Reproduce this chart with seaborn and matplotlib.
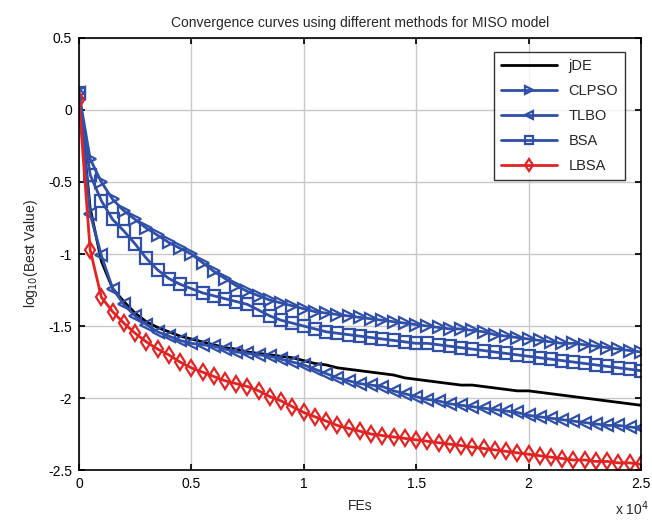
import numpy as np
import pandas as pd
import matplotlib
matplotlib.use("Agg")
import matplotlib.pyplot as plt
import seaborn as sns

fes = [500 * i for i in range(51)]

jde = [0.12, -0.68, -1.05, -1.24, -1.33, -1.41, -1.47, -1.51, -1.54, -1.57,
       -1.59, -1.61, -1.63, -1.65, -1.66, -1.68, -1.69, -1.70, -1.71, -1.72,
       -1.74, -1.76, -1.77, -1.79, -1.80, -1.81, -1.82, -1.83, -1.84, -1.86,
       -1.87, -1.88, -1.89, -1.90, -1.91, -1.91, -1.92, -1.93, -1.94, -1.95,
       -1.95, -1.96, -1.97, -1.98, -1.99, -2.00, -2.01, -2.02, -2.03, -2.04,
       -2.05]

clpso = [0.12, -0.34, -0.50, -0.62, -0.70, -0.76, -0.82, -0.87, -0.92, -0.96,
         -1.00, -1.06, -1.12, -1.17, -1.22, -1.26, -1.29, -1.32, -1.34, -1.36,
         -1.38, -1.40, -1.41, -1.42, -1.43, -1.44, -1.45, -1.46, -1.47, -1.48,
         -1.49, -1.50, -1.51, -1.52, -1.52, -1.53, -1.54, -1.56, -1.57, -1.58,
         -1.59, -1.60, -1.61, -1.62, -1.62, -1.63, -1.64, -1.65, -1.66, -1.67,
         -1.68]

tlbo = [0.12, -0.72, -1.01, -1.24, -1.35, -1.43, -1.49, -1.54, -1.57, -1.60,
        -1.62, -1.63, -1.64, -1.66, -1.68, -1.69, -1.70, -1.71, -1.73, -1.75,
        -1.77, -1.80, -1.83, -1.86, -1.88, -1.90, -1.91, -1.92, -1.95, -1.97,
        -1.99, -2.01, -2.02, -2.04, -2.05, -2.06, -2.07, -2.08, -2.09, -2.10,
        -2.12, -2.13, -2.14, -2.15, -2.16, -2.17, -2.18, -2.19, -2.19, -2.20,
        -2.21]

bsa = [0.12, -0.45, -0.63, -0.76, -0.84, -0.93, -1.03, -1.11, -1.17, -1.21,
       -1.24, -1.27, -1.29, -1.31, -1.33, -1.35, -1.39, -1.43, -1.46, -1.48,
       -1.50, -1.52, -1.54, -1.55, -1.56, -1.57, -1.58, -1.59, -1.60, -1.61,
       -1.62, -1.62, -1.63, -1.64, -1.65, -1.66, -1.67, -1.68, -1.69, -1.70,
       -1.71, -1.72, -1.73, -1.74, -1.75, -1.76, -1.77, -1.78, -1.79, -1.80,
       -1.81]

lbsa = [0.07, -0.97, -1.30, -1.40, -1.48, -1.55, -1.61, -1.66, -1.70, -1.75,
        -1.79, -1.82, -1.85, -1.88, -1.90, -1.92, -1.95, -1.99, -2.02, -2.06,
        -2.10, -2.13, -2.16, -2.19, -2.21, -2.23, -2.25, -2.26, -2.27, -2.28,
        -2.29, -2.30, -2.31, -2.32, -2.33, -2.34, -2.35, -2.36, -2.37, -2.38,
        -2.39, -2.40, -2.41, -2.42, -2.43, -2.43, -2.44, -2.44, -2.45, -2.45,
        -2.46]

methods = ["jDE", "CLPSO", "TLBO", "BSA", "LBSA"]
series = [jde, clpso, tlbo, bsa, lbsa]
xticks = [0, 5000, 10000, 15000, 20000, 25000]
xticklabels = ["0", "0.5", "1", "1.5", "2", "2.5"]
yticks = [0.5, 0, -0.5, -1, -1.5, -2, -2.5]
yticklabels = ["0.5", "0", "-0.5", "-1", "-1.5", "-2", "-2.5"]

sns.set_theme(style="whitegrid")
plt.rcParams["font.family"] = ["Liberation Sans", "DejaVu Sans"]

fig = plt.figure(figsize=(6.52, 5.27), dpi=100)
ax = fig.add_axes([0.121, 0.108, 0.862, 0.820])

blue = "#2f4fa8"
red = "#e32222"
styles = {
    "jDE": dict(color="black", marker=None),
    "CLPSO": dict(color=blue, marker=">"),
    "TLBO": dict(color=blue, marker="<"),
    "BSA": dict(color=blue, marker="s"),
    "LBSA": dict(color=red, marker="d"),
}

for name, vals in zip(methods, series):
    st = styles[name]
    kw = dict(x=fes, y=vals, ax=ax, color=st["color"], linewidth=2.0, label=name)
    if st["marker"] is not None:
        kw.update(marker=st["marker"], markersize=8, markerfacecolor="none",
                  markeredgecolor=st["color"], markeredgewidth=1.6)
    sns.lineplot(**kw)

ax.set_xlim(0, 25000)
ax.set_ylim(-2.5, 0.5)
ax.set_xticks(xticks)
ax.set_xticklabels(xticklabels)
ax.set_yticks(yticks)
ax.set_yticklabels(yticklabels)
ax.tick_params(direction="in", length=4, labelsize=10, colors="black",
               top=True, right=True, bottom=True, left=True, pad=5)
ax.grid(True, color="#c8c8c8", linewidth=1.0)
for sp in ax.spines.values():
    sp.set_color("black")
    sp.set_linewidth(1.2)
    sp.set_visible(True)

ax.set_title("Convergence curves using different methods for MISO model",
             fontsize=10, pad=8)
ax.set_xlabel("FEs", fontsize=10, labelpad=6)
ax.set_ylabel("log$_{10}$(Best Value)", fontsize=10, labelpad=6)
fig.text(0.995, 0.035, "x 10$^{4}$", ha="right", va="center", fontsize=10)

leg = ax.legend(loc="upper right", fontsize=10.5, handlelength=3.8,
                fancybox=False, frameon=True, borderpad=0.5,
                labelspacing=0.75, markerscale=0.75,
                bbox_to_anchor=(0.985, 0.985))
leg.get_frame().set_edgecolor("black")
leg.get_frame().set_linewidth(1.0)

fig.savefig("out.png", dpi=100)
